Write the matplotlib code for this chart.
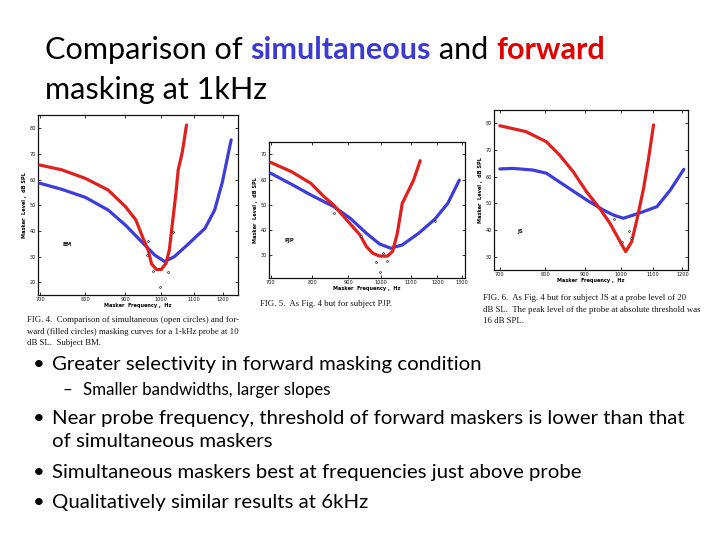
import matplotlib
matplotlib.use('Agg')
import matplotlib.pyplot as plt
from matplotlib.ticker import FixedLocator, NullLocator, FixedFormatter

# ---------------- data ----------------
# Panel 1 (subject BM)
bm_fwd_freq = [700, 747, 800, 855, 900, 928, 948, 962, 972, 986, 1000, 1014, 1024, 1031, 1044, 1051, 1064, 1077]
bm_fwd_level = [65.7, 63.8, 60.5, 56.0, 49.5, 44.3, 37.1, 32.6, 27.1, 25.0, 25.0, 27.4, 32.6, 40.4, 54.7, 63.8, 70.9, 81.3]
bm_sim_freq = [700, 747, 800, 855, 900, 948, 981, 1010, 1039, 1079, 1137, 1170, 1197, 1228]
bm_sim_level = [58.6, 56.2, 53.1, 48.2, 42.3, 35.2, 30.6, 28.1, 30.0, 34.5, 41.0, 48.2, 59.2, 75.5]
bm_pts_freq = [963, 960, 976, 1021, 997, 1036]
bm_pts_level = [36.2, 30.6, 24.5, 23.9, 18.3, 39.7]

# Panel 2 (subject PJP)
pjp_fwd_freq = [700, 749, 797, 832, 858, 895, 934, 954, 974, 995, 1021, 1038, 1054, 1071, 1094, 1111, 1135]
pjp_fwd_level = [66.8, 63.1, 58.5, 53.2, 49.9, 44.0, 38.1, 33.4, 30.8, 29.7, 29.7, 31.5, 38.7, 50.6, 55.9, 59.8, 67.5]
pjp_sim_freq = [700, 749, 797, 858, 905, 954, 995, 1032, 1071, 1129, 1190, 1241, 1288]
pjp_sim_level = [62.5, 58.1, 53.9, 49.3, 44.7, 38.7, 34.5, 32.8, 34.1, 38.7, 44.3, 50.6, 59.8]
pjp_pts_freq = [858, 936, 1005, 984, 1018, 996, 1190]
pjp_pts_level = [46.6, 37.8, 31.0, 27.5, 27.8, 23.5, 43.7]

# Panel 3 (subject JS)
js_fwd_freq = [700, 756, 803, 835, 869, 904, 940, 969, 993, 1015, 1033, 1049, 1070, 1086, 1102]
js_fwd_level = [79.1, 76.9, 73.1, 68.1, 61.9, 54.4, 48.1, 42.5, 36.9, 31.9, 35.6, 43.75, 55.6, 66.9, 79.4]
js_sim_freq = [700, 727, 771, 803, 852, 904, 950, 979, 1008, 1038, 1070, 1113, 1158, 1205]
js_sim_level = [62.9, 63.1, 62.5, 61.3, 56.3, 51.3, 47.5, 45.6, 44.4, 45.6, 46.9, 48.75, 55.0, 62.75]
js_pts_freq = [981, 1024, 1003, 1030]
js_pts_level = [44.0, 39.6, 35.6, 36.9]

xticks_a = [700, 800, 900, 1000, 1100, 1200]
xticks_b = [700, 800, 900, 1000, 1100, 1200, 1300]
yticks_a = [20, 30, 40, 50, 60, 70, 80]
yticks_b = [30, 40, 50, 60, 70]
yticks_c = [30, 40, 50, 60, 70, 80]

title_pieces = ["Comparison of ", "simultaneous", " and ", "forward"]
title_line2 = "masking at 1kHz"
bullets = [
    "Greater selectivity in forward masking condition",
    "Near probe frequency, threshold of forward maskers is lower than that",
    "Simultaneous maskers best at frequencies just above probe",
    "Qualitatively similar results at 6kHz",
]
bullet2_cont = "of simultaneous maskers"
sub_bullet = "Smaller bandwidths, larger slopes"

cap1 = ["FIG. 4.  Comparison of simultaneous (open circles) and for-",
        "ward (filled circles) masking curves for a 1-kHz probe at 10",
        "dB SL.  Subject BM."]
cap2 = ["FIG. 5.  As Fig. 4 but for subject PJP."]
cap3 = ["FIG. 6.  As Fig. 4 but for subject JS at a probe level of 20",
        "dB SL.  The peak level of the probe at absolute threshold was",
        "16 dB SPL."]

# ---------------- figure ----------------
W, H = 720, 540
fig = plt.figure(figsize=(7.2, 5.4), dpi=100)
fig.patch.set_facecolor('white')
renderer = fig.canvas.get_renderer()

RED = '#e0201c'
BLUE = '#3c3cdc'
TRED = '#e00000'
TBLUE = '#3b3bd2'
SANS = ['Lato', 'DejaVu Sans']
SERIF = ['Liberation Serif', 'DejaVu Serif']


def width_of(s, size, family, weight='normal'):
    t = fig.text(0, 0, s + 'M', fontsize=size, family=family, weight=weight)
    m = fig.text(0, 0, 'M', fontsize=size, family=family, weight=weight)
    w = t.get_window_extent(renderer).width - m.get_window_extent(renderer).width
    t.remove(); m.remove()
    return w


def fit_size(s, target, family, weight='normal', base=20):
    return base * target / width_of(s, base, family, weight)


def ptext(x, y, s, **kw):
    return fig.text(x / W, 1 - y / H, s, va='baseline', ha='left', **kw)


def panel(l, t, r, b, xlim, ylim, xt, yt, fwd, sim, pts, label, label_xy):
    ax = fig.add_axes([l / W, 1 - b / H, (r - l) / W, (b - t) / H])
    ax.set_xscale('log')
    ax.plot(sim[0], sim[1], color=BLUE, lw=2.3, solid_capstyle='round', zorder=3)
    ax.plot(fwd[0], fwd[1], color=RED, lw=2.3, solid_capstyle='round', zorder=4)
    ax.plot(pts[0], pts[1], 'o', ms=1.3, mfc='white', mec='#222222', mew=0.5, zorder=5)
    ax.set_xlim(*xlim)
    ax.set_ylim(*ylim)
    ax.xaxis.set_major_locator(FixedLocator(xt))
    ax.xaxis.set_minor_locator(NullLocator())
    ax.xaxis.set_major_formatter(FixedFormatter([str(v) for v in xt]))
    ax.yaxis.set_major_locator(FixedLocator(yt))
    ax.yaxis.set_minor_locator(NullLocator())
    ax.tick_params(direction='in', length=2, width=0.6, labelsize=3.6, pad=1.5,
                   colors='#111111', top=True, right=True)
    for sp in ax.spines.values():
        sp.set_linewidth(0.9)
        sp.set_color('#111111')
    ax.set_xlabel('Masker  Frequency ,  Hz', fontsize=3.6, labelpad=1, weight='bold')
    ax.set_ylabel('Masker  Level ,  dB SPL', fontsize=3.6, labelpad=1.5, weight='bold')
    ax.text(label_xy[0], label_xy[1], label, fontsize=3.8, weight='bold', color='#111111')
    return ax


panel(38, 115, 238, 295, (696, 1253), (15.05, 85.2), xticks_a, yticks_a,
      (bm_fwd_freq, bm_fwd_level), (bm_sim_freq, bm_sim_level),
      (bm_pts_freq, bm_pts_level), 'BM', (747, 34.2))
panel(269, 142, 465, 278, (696, 1312), (21.0, 74.9), xticks_b, yticks_b,
      (pjp_fwd_freq, pjp_fwd_level), (pjp_sim_freq, pjp_sim_level),
      (pjp_pts_freq, pjp_pts_level), 'PJP', (731, 35.3))
panel(494, 110, 688, 270, (688, 1220), (25.0, 85.0), xticks_a, yticks_c,
      (js_fwd_freq, js_fwd_level), (js_sim_freq, js_sim_level),
      (js_pts_freq, js_pts_level), 'JS', (738, 38.9))

# captions
csize = fit_size(cap1[0], 209, SERIF)
for i, line in enumerate(cap1):
    ptext(27, 322 + i * 11.5, line, fontsize=csize, family=SERIF, color='#111111')
for i, line in enumerate(cap2):
    ptext(260, 306 + i * 11.5, line, fontsize=csize, family=SERIF, color='#111111')
for i, line in enumerate(cap3):
    ptext(483, 300 + i * 11.5, line, fontsize=csize, family=SERIF, color='#111111')

# title
colors = ['black', TBLUE, 'black', TRED]
weights = ['normal', 'bold', 'normal', 'bold']
base = 20
total = sum(width_of(p, base, SANS, w) for p, w in zip(title_pieces, weights))
tsize = base * 561 / total
x = 45
for p, c, w in zip(title_pieces, colors, weights):
    ptext(x, 59, p, fontsize=tsize, family=SANS, color=c, weight=w)
    x += width_of(p, tsize, SANS, w)
ptext(45, 99, title_line2, fontsize=tsize, family=SANS, color='black')

# bullets
bsize = fit_size(bullets[1], 634, SANS)
ssize = fit_size(sub_bullet, 247, SANS)
ys = [370, 424, 478, 508]
for y, s in zip(ys, bullets):
    ptext(33, y, '\u2022', fontsize=bsize, family=SANS, color='black')
    ptext(52, y, s, fontsize=bsize, family=SANS, color='black')
ptext(52, 447, bullet2_cont, fontsize=bsize, family=SANS, color='black')
ptext(62, 395, '\u2013', fontsize=ssize, family=SANS, color='black')
ptext(83, 395, sub_bullet, fontsize=ssize, family=SANS, color='black')

fig.savefig('out.png', dpi=100, facecolor='white')
